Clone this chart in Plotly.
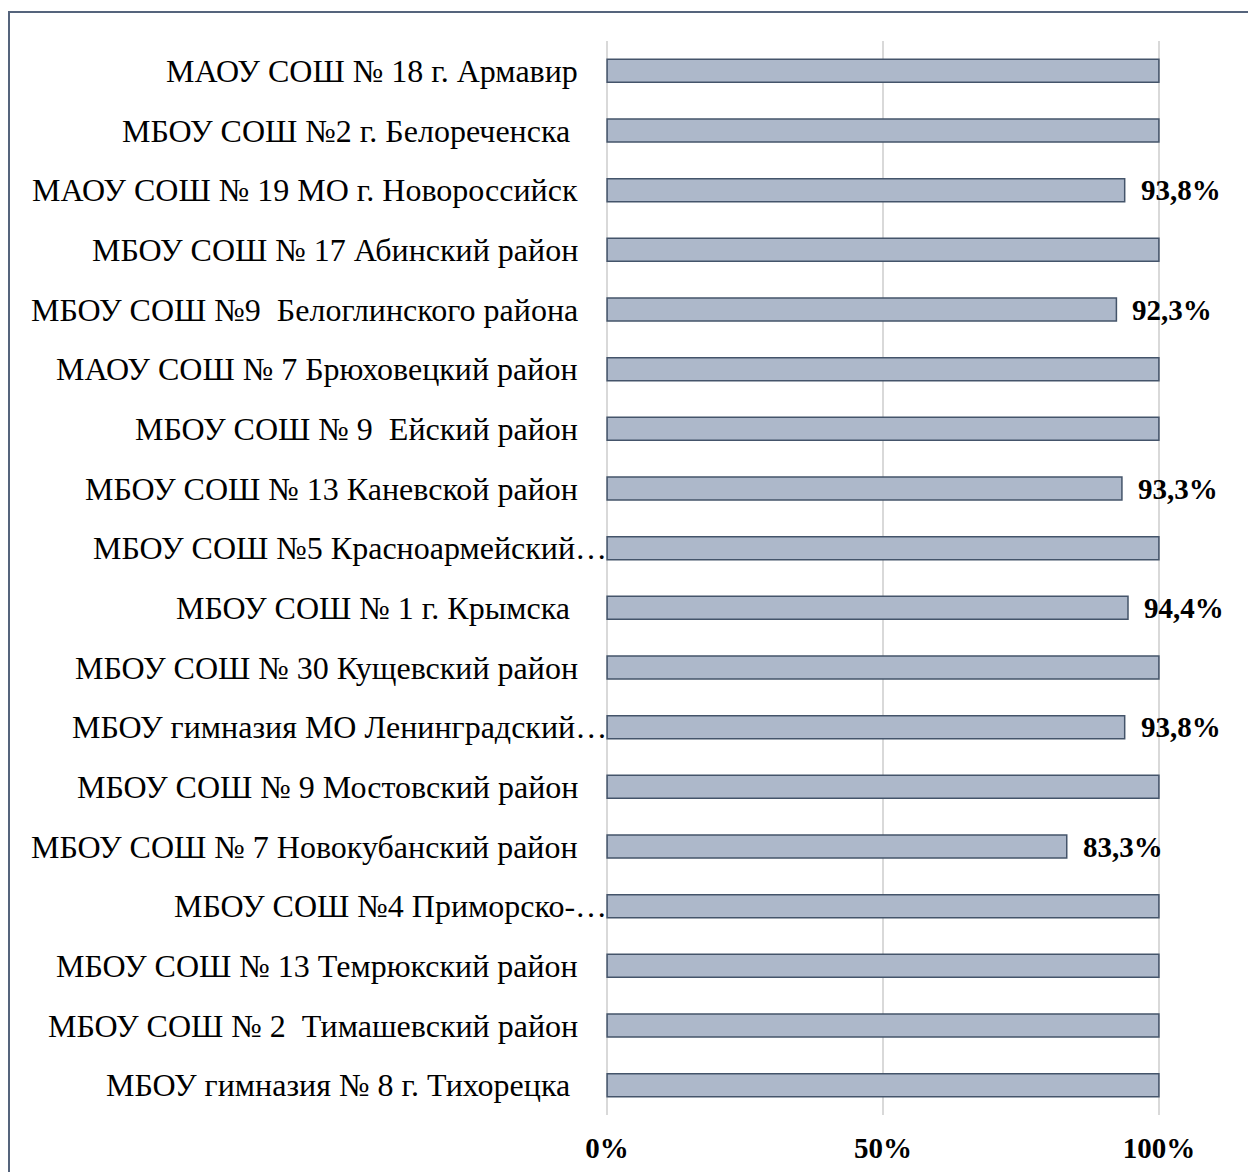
import plotly.graph_objects as go

categories = [
    "МАОУ СОШ № 18 г. Армавир",
    "МБОУ СОШ №2 г. Белореченска ",
    "МАОУ СОШ № 19 МО г. Новороссийск",
    "МБОУ СОШ № 17 Абинский район",
    "МБОУ СОШ №9  Белоглинского района",
    "МАОУ СОШ № 7 Брюховецкий район",
    "МБОУ СОШ № 9  Ейский район",
    "МБОУ СОШ № 13 Каневской район",
    "МБОУ СОШ №5 Красноармейский…",
    "МБОУ СОШ № 1 г. Крымска ",
    "МБОУ СОШ № 30 Кущевский район",
    "МБОУ гимназия МО Ленинградский…",
    "МБОУ СОШ № 9 Мостовский район",
    "МБОУ СОШ № 7 Новокубанский район",
    "МБОУ СОШ №4 Приморско-…",
    "МБОУ СОШ № 13 Темрюкский район",
    "МБОУ СОШ № 2  Тимашевский район",
    "МБОУ гимназия № 8 г. Тихорецка ",
]
values = [1.0, 1.0, 0.938, 1.0, 0.923, 1.0, 1.0, 0.933, 1.0, 0.944,
          1.0, 0.938, 1.0, 0.833, 1.0, 1.0, 1.0, 1.0]
x_ticks = [0, 0.5, 1.0]
x_tick_labels = ["0%", "50%", "100%"]

FONT = "Liberation Serif, Times New Roman, serif"
disp = [c.replace(" ", "\u00a0") for c in categories]

fig = go.Figure(go.Bar(
    x=values, y=disp, orientation="h",
    marker=dict(color="#ADB8CA", line=dict(color="#44546A", width=1.5)),
    width=0.385, hoverinfo="skip",
))

annotations = []
for c, d in zip(categories, disp):
    annotations.append(dict(
        x=0, y=d, xref="x", yref="y", text=d, showarrow=False,
        xanchor="right", yanchor="middle",
        xshift=2 if c.endswith("…") else -27,
        font=dict(family=FONT, size=32, color="#000000"),
    ))
for v, d in zip(values, disp):
    if v < 1.0:
        annotations.append(dict(
            x=v, y=d, xref="x", yref="y",
            text=f"{v*100:.1f}%".replace(".", ","), showarrow=False,
            xanchor="left", yanchor="middle", xshift=14,
            font=dict(family=FONT, size=29, color="#000000", weight="bold"),
        ))

OFF = 8  # page body margin
L, R, T, B = 606 - OFF, 1160 - OFF, 41 - OFF, 1115 - OFF
W, H = 1256 - OFF, 1172 - OFF
def px(x):
    return (x - OFF - L) / (R - L)
def py(y):
    return (B - (y - OFF)) / (B - T)

fig.update_layout(
    width=W, height=H,
    margin=dict(l=L, r=W - R, t=T, b=H - B, autoexpand=False),
    paper_bgcolor="white", plot_bgcolor="white",
    showlegend=False,
    annotations=annotations,
    shapes=[dict(type="rect", xref="paper", yref="paper",
                 x0=px(9), x1=px(1300), y0=py(1220), y1=py(12),
                 line=dict(color="#55647C", width=2), fillcolor="rgba(0,0,0,0)",
                 layer="below")],
    xaxis=dict(
        range=[-0.002, 1.002], tickvals=x_ticks, ticktext=x_tick_labels,
        showgrid=True, gridcolor="#D9D9D9", gridwidth=1.5,
        zeroline=True, zerolinecolor="#D9D9D9", zerolinewidth=1.5,
        showline=False, ticks="", automargin=False,
        tickfont=dict(family=FONT, size=29, color="#000000", weight="bold"),
        ticklabelstandoff=13, fixedrange=True,
    ),
    yaxis=dict(
        autorange="reversed", showticklabels=False, showgrid=False,
        zeroline=False, showline=False, ticks="", fixedrange=True,
        automargin=False,
    ),
)

fig.write_html("out.html")
